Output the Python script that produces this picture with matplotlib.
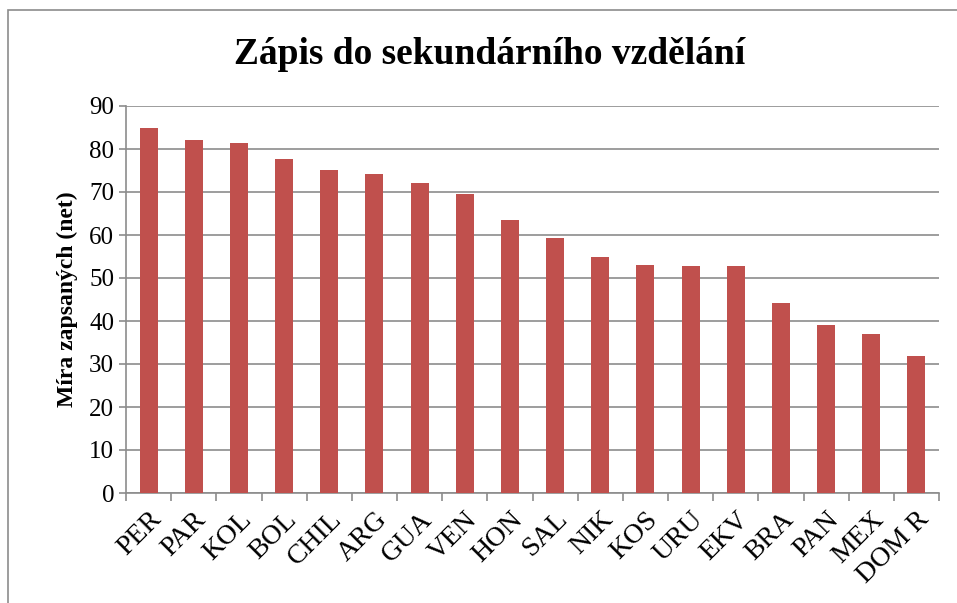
import numpy as np
import matplotlib.pyplot as plt
from matplotlib.patches import Rectangle

plt.rcParams['font.family'] = ['Liberation Serif', 'DejaVu Serif']

zeme = ['PER', 'PAR', 'KOL', 'BOL', 'CHIL', 'ARG', 'GUA', 'VEN', 'HON',
        'SAL', 'NIK', 'KOS', 'URU', 'EKV', 'BRA', 'PAN', 'MEX', 'DOM R']
mira = [84.8, 82.2, 81.4, 77.6, 75.1, 74.3, 72.1, 69.5, 63.4,
        59.2, 54.9, 53.0, 52.7, 52.7, 44.3, 39.1, 36.9, 31.9]
yticks = [0, 10, 20, 30, 40, 50, 60, 70, 80, 90]

W, H = 957, 603
fig = plt.figure(figsize=(W/100, H/100), dpi=100)
ax = fig.add_axes([126/W, 1-493/H, (939-126)/W, (493-106)/H])

# ramecek grafu
fig.patches.append(Rectangle((8/W, -0.1), 1.2, 1-10/H+0.1, transform=fig.transFigure,
                             fill=False, edgecolor='#8c8c8c', linewidth=1.2))

x = np.arange(len(zeme))
ax.bar(x, mira, width=0.4, color='#C0504D', zorder=3)

ax.set_xlim(-0.5, len(zeme)-0.5)
ax.set_ylim(0, 90)
ax.set_yticks(yticks)
ax.tick_params(axis='y', labelsize=18, length=5, color='#8c8c8c', width=1.2)
ax.yaxis.grid(True, color='#8c8c8c', linewidth=1.2, zorder=0)

ax.set_xticks(x)
ax.set_xticklabels(zeme, rotation=45, ha='right', rotation_mode='anchor', fontsize=20)
ax.set_xticks(np.arange(len(zeme)+1)-0.5, minor=True)
ax.tick_params(axis='x', which='major', length=0, pad=10)
ax.tick_params(axis='x', which='minor', length=6, color='#8c8c8c', width=1.2)

for s in ['top', 'right']:
    ax.spines[s].set_visible(False)
for s in ['left', 'bottom']:
    ax.spines[s].set_color('#8c8c8c')
    ax.spines[s].set_linewidth(1.2)

ax.set_ylabel('Míra zapsaných (net)', fontsize=17, fontweight='bold', labelpad=8)
fig.text(490/W, 1-55/H, 'Zápis do sekundárního vzdělání', fontsize=27,
         fontweight='bold', ha='center', va='center')

fig.savefig('out.png', dpi=100)
